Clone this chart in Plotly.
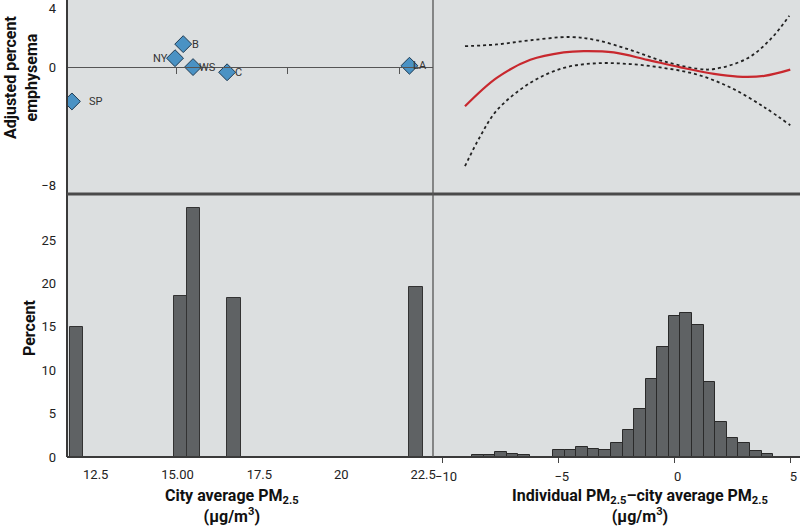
import plotly.graph_objects as go

# ---------------- data ----------------
# top-left: city adjusted percent emphysema
cities = ["SP", "NY", "B", "WS", "C", "LA"]
city_pm = [11.65, 14.80, 15.05, 15.35, 16.39, 21.96]
city_emph = [-2.3, 0.62, 1.57, 0.02, -0.33, 0.11]
label_shift = [24, -15, 12, 14, 11, 11]

# top-right: spline estimate and confidence band
curve_x = [-9.05, -7.68, -6.23, -4.79, -3.93, -2.63, -1.18, 0.26, 1.70, 2.71, 3.87, 4.99]
curve_y = [-2.63, -0.71, 0.51, 1.01, 1.10, 1.01, 0.51, 0.0, -0.44, -0.62, -0.57, -0.15]
upper_x = [-9.05, -7.68, -6.23, -4.50, -3.35, -1.90, -0.46, 0.98, 1.70, 3.15, 4.16, 4.95]
upper_y = [1.43, 1.55, 1.83, 2.05, 1.83, 1.17, 0.40, -0.09, -0.11, 0.62, 1.94, 3.49]
lower_x = [-9.05, -8.40, -7.68, -6.23, -4.79, -3.35, -1.90, -0.46, 0.98, 2.42, 3.87, 4.99]
lower_y = [-6.67, -4.68, -2.91, -1.04, -0.04, 0.28, 0.22, -0.04, -0.49, -1.37, -2.69, -3.91]

# bottom-left: percent of participants by city average PM2.5
bar_pm = [11.78, 14.97, 15.36, 16.60, 22.16]
bar_pct = [15.0, 18.5, 28.7, 18.35, 19.6]

# bottom-right: histogram of individual minus city average PM2.5
hist_x = [-8.5, -8.0, -7.5, -7.0, -6.5,
          -5.0, -4.5, -4.0, -3.5, -3.0, -2.5, -2.0, -1.5, -1.0, -0.5,
          0.0, 0.5, 1.0, 1.5, 2.0, 2.5, 3.0, 3.5, 4.0]
hist_pct = [0.27, 0.27, 0.54, 0.39, 0.27,
            0.81, 0.81, 1.16, 0.92, 0.81, 1.58, 3.12, 5.51, 8.98, 12.64,
            16.3, 16.6, 15.26, 8.59, 4.01, 2.20, 1.58, 0.69, 0.39]

left_ticks = [12.5, 15.0, 17.5, 20.0, 22.5]
left_ticktext = ["12.5", "15.00", "17.5", "20", "22.5"]
right_ticks = [-10, -5, 0, 5]
right_ticktext = ["\u221210", "\u22125", "0", "5"]
top_ticks = [14.85, 18.24, 21.67]
emph_ticks = [4, 0, -8]
emph_ticktext = ["4", "0", "\u22128"]
pct_ticks = [0, 5, 10, 15, 20, 25]

# ---------------- layout geometry ----------------
W, H = 800, 527
ML, MB = 67, 70
PW, PH = W - ML, H - MB
def px_x(p):
    return (p - ML) / PW
def px_y(p):
    return (H - MB - p) / PH

xsplit = px_x(433)
ysplit = px_y(194)
left_range = [11.5, 22.68]
right_range = [-10.43, 5.41]
top_range = [-8.55, 4.55]
bot_range = [0, 30.3]
zero_pos = ysplit + (0 - top_range[0]) / (top_range[1] - top_range[0]) * (1 - ysplit)

FONT = "Roboto, Lato, sans-serif"
BG = "#dcdfe0"
BAR = "#5f6264"

fig = go.Figure()

fig.add_trace(go.Bar(x=bar_pm, y=bar_pct, width=0.4, xaxis="x", yaxis="y",
                     marker=dict(color=BAR, line=dict(color="#333333", width=1))))
fig.add_trace(go.Bar(x=hist_x, y=hist_pct, width=0.5, xaxis="x2", yaxis="y2",
                     marker=dict(color=BAR, line=dict(color="#2a2a2a", width=1))))
fig.add_trace(go.Scatter(x=city_pm, y=city_emph, mode="markers", xaxis="x3", yaxis="y3",
                         marker=dict(symbol="diamond", size=13, color="#4a92c4",
                                     line=dict(color="#1e3a52", width=1))))
fig.add_trace(go.Scatter(x=upper_x, y=upper_y, mode="lines", xaxis="x4", yaxis="y4",
                         line=dict(color="#222222", width=1.8, dash="dot", shape="spline")))
fig.add_trace(go.Scatter(x=lower_x, y=lower_y, mode="lines", xaxis="x4", yaxis="y4",
                         line=dict(color="#222222", width=1.8, dash="dot", shape="spline")))
fig.add_trace(go.Scatter(x=curve_x, y=curve_y, mode="lines", xaxis="x4", yaxis="y4",
                         line=dict(color="#c8282e", width=2.2, shape="spline")))

for c, xv, yv, s in zip(cities, city_pm, city_emph, label_shift):
    fig.add_annotation(x=xv, y=yv, xref="x3", yref="y3", text=c, showarrow=False,
                       xshift=s, font=dict(family=FONT, size=11, color="#333333"))

tickfont = dict(family=FONT, size=13, color="#222222")
common = dict(showgrid=False, zeroline=False, fixedrange=True, automargin=False)

fig.update_layout(
    width=W, height=H,
    margin=dict(l=ML, r=0, t=0, b=MB, autoexpand=False),
    paper_bgcolor="white", plot_bgcolor=BG,
    showlegend=False, bargap=0,
    xaxis=dict(domain=[0, xsplit], anchor="y", range=left_range, tickvals=left_ticks,
               ticktext=left_ticktext, ticks="", tickfont=tickfont, ticklabelstandoff=8,
               ticklabelshift=-4, **common),
    yaxis=dict(domain=[0, ysplit], anchor="x", range=bot_range, tickvals=pct_ticks,
               ticks="", tickfont=tickfont, ticklabelstandoff=10, **common),
    xaxis2=dict(domain=[xsplit, 1], anchor="y2", range=right_range, tickvals=right_ticks,
                ticktext=right_ticktext, ticks="outside", ticklen=5, tickcolor="#444444",
                tickfont=tickfont, ticklabelstandoff=2, ticklabelshift=3, **common),
    yaxis2=dict(domain=[0, ysplit], anchor="x2", range=bot_range, showticklabels=False,
                ticks="", **common),
    xaxis3=dict(domain=[0, xsplit], anchor="free", position=zero_pos, range=left_range,
                tickvals=top_ticks, ticks="outside", ticklen=6, tickcolor="#555555",
                showticklabels=False, showline=True, linecolor="#555555", linewidth=1, **common),
    yaxis3=dict(domain=[ysplit, 1], anchor="x3", range=top_range, tickvals=emph_ticks,
                ticktext=emph_ticktext, ticks="", tickfont=tickfont, ticklabelstandoff=10,
                ticklabeloverflow="allow", **common),
    xaxis4=dict(domain=[xsplit, 1], anchor="y4", range=right_range, showticklabels=False,
                ticks="", **common),
    yaxis4=dict(domain=[ysplit, 1], anchor="x4", range=top_range, showticklabels=False,
                ticks="", **common),
)

# panel frame lines
line_dark = dict(color="#3a3a3a", width=2)
fig.add_shape(type="line", xref="paper", yref="paper", x0=0, x1=0, y0=0, y1=1, line=line_dark)
fig.add_shape(type="line", xref="paper", yref="paper", x0=0, x1=1, y0=0, y1=0, line=line_dark)
fig.add_shape(type="line", xref="paper", yref="paper", x0=0, x1=1, y0=ysplit, y1=ysplit,
              line=dict(color="#4a4a4a", width=3))
fig.add_shape(type="line", xref="paper", yref="paper", x0=xsplit, x1=xsplit, y0=0, y1=1,
              line=dict(color="#555555", width=1.3))

titlefont = dict(family=FONT, size=16, color="#111111")
anno = dict(xref="paper", yref="paper", showarrow=False, font=titlefont,
            xanchor="center", yanchor="middle")
fig.add_annotation(x=px_x(21), y=px_y(77), text="<b>Adjusted percent<br>emphysema</b>",
                   textangle=-90, **anno)
fig.add_annotation(x=px_x(29), y=px_y(328), text="<b>Percent</b>", textangle=-90, **anno)
fig.add_annotation(x=px_x(232), y=px_y(506),
                   text="<b>City average PM<sub>2.5</sub><br>(\u00b5g/m<sup>3</sup>)</b>", **anno)
fig.add_annotation(x=px_x(640), y=px_y(506),
                   text="<b>Individual PM<sub>2.5</sub>\u2013city average PM<sub>2.5</sub><br>(\u00b5g/m<sup>3</sup>)</b>",
                   **anno)

fig.write_html("out.html", config={"displayModeBar": False},
               post_script="document.body.style.margin='0';")
